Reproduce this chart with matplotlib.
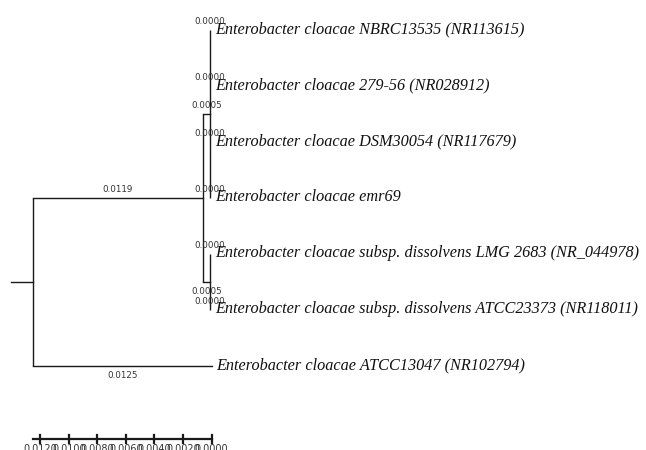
import matplotlib
matplotlib.use("Agg")
import matplotlib.pyplot as plt

# Leaves, top to bottom
taxa = [
    "Enterobacter cloacae NBRC13535 (NR113615)",
    "Enterobacter cloacae 279-56 (NR028912)",
    "Enterobacter cloacae DSM30054 (NR117679)",
    "Enterobacter cloacae emr69",
    "Enterobacter cloacae subsp. dissolvens LMG 2683 (NR_044978)",
    "Enterobacter cloacae subsp. dissolvens ATCC23373 (NR118011)",
    "Enterobacter cloacae ATCC13047 (NR102794)",
]
leaf_parent = ["B", "B", "B", "B", "C", "C", "root"]
leaf_length = [0.0000, 0.0000, 0.0000, 0.0000, 0.0000, 0.0000, 0.0125]

# Internal nodes
nodes = ["A", "B", "C"]
node_parent = ["root", "A", "A"]
node_length = [0.0119, 0.0005, 0.0005]

# Scale bar
scale_values = [0.0120, 0.0100, 0.0080, 0.0060, 0.0040, 0.0020, 0.0000]
scale_labels = ["0.0120", "0.0100", "0.0080", "0.0060", "0.0040", "0.0020", "0.0000"]

W, H, DPI = 646, 450, 100
PX_PER_UNIT = 14286.0
ROOT_PX = 33.0
Y0_PX, DY_PX = 30.0, 56.0

fig = plt.figure(figsize=(W / DPI, H / DPI), dpi=DPI)
ax = fig.add_axes([0, 0, 1, 1])
ax.set_xlim(-ROOT_PX / PX_PER_UNIT, (W - ROOT_PX) / PX_PER_UNIT)
ax.set_ylim((H - Y0_PX) / DY_PX, -Y0_PX / DY_PX)
ax.axis("off")

# unit helpers: pixels -> data
px_x = 1.0 / PX_PER_UNIT
px_y = 1.0 / DY_PX

# depth of every node
depth = {"root": 0.0}
parent_of = dict(zip(nodes, node_parent))
length_of = dict(zip(nodes, node_length))
for n in nodes:
    chain, d = n, 0.0
    while chain != "root":
        d += length_of[chain]
        chain = parent_of[chain]
    depth[n] = d

# y of leaves and internal nodes
ypos = {}
children = {"root": [], "A": [], "B": [], "C": []}
for i, (t, p) in enumerate(zip(taxa, leaf_parent)):
    ypos[t] = float(i)
    children[p].append(t)
for n, p in zip(nodes, node_parent):
    children[p].append(n)


def node_y(n):
    if n in ypos:
        return ypos[n]
    ys = [node_y(c) for c in children[n]]
    ypos[n] = (min(ys) + max(ys)) / 2
    return ypos[n]


node_y("root")

LW = 1.0
COL = "#1a1a1a"
num_font = dict(family="DejaVu Sans", fontsize=6.3, color="#333333")

# vertical connectors
for n in ["root"] + nodes:
    ys = [ypos[c] for c in children[n]]
    ax.plot([depth[n], depth[n]], [min(ys), max(ys)], color=COL, lw=LW,
            solid_capstyle="butt")

# root stub
ax.plot([depth["root"] - 22 * px_x, depth["root"]], [ypos["root"]] * 2,
        color=COL, lw=LW)


def branch_label(x0, x1, y, text, below):
    xm = (x0 + x1) / 2
    if below:
        ax.text(xm, y + 9 * px_y, text, ha="center", va="center", **num_font)
    else:
        ax.text(xm, y - 9 * px_y, text, ha="center", va="center", **num_font)


# internal branches
for n, p, L in zip(nodes, node_parent, node_length):
    x0, x1 = depth[p], depth[p] + L
    ax.plot([x0, x1], [ypos[n]] * 2, color=COL, lw=LW)
    branch_label(x0, x1, ypos[n], f"{L:.4f}", below=(n == "C"))

# leaf branches and names
for t, p, L in zip(taxa, leaf_parent, leaf_length):
    x0, x1 = depth[p], depth[p] + L
    y = ypos[t]
    ax.plot([x0, x1], [y, y], color=COL, lw=LW)
    branch_label(x0, x1, y, f"{L:.4f}", below=(p == "root"))
    ax.text(x1 + 5 * px_x, y - 1 * px_y, t, ha="left", va="center",
            family="Liberation Serif", style="italic", fontsize=11.7,
            color="#111111")

# scale bar
bar_right = max(depth[p] + L for p, L in zip(leaf_parent, leaf_length))
bar_y = (439 - Y0_PX) / DY_PX
ticks_x = [bar_right - v for v in scale_values]
ax.plot([min(ticks_x) - 7 * px_x, max(ticks_x)], [bar_y, bar_y], color=COL, lw=1.6)
for tx, lab in zip(ticks_x, scale_labels):
    ax.plot([tx, tx], [bar_y - 4 * px_y, bar_y + 4 * px_y], color=COL, lw=1.6)
    ax.text(tx, bar_y + 5 * px_y, lab, ha="center", va="top",
            family="DejaVu Sans", fontsize=7.0, color="#333333")

fig.savefig("out.png", dpi=DPI)
